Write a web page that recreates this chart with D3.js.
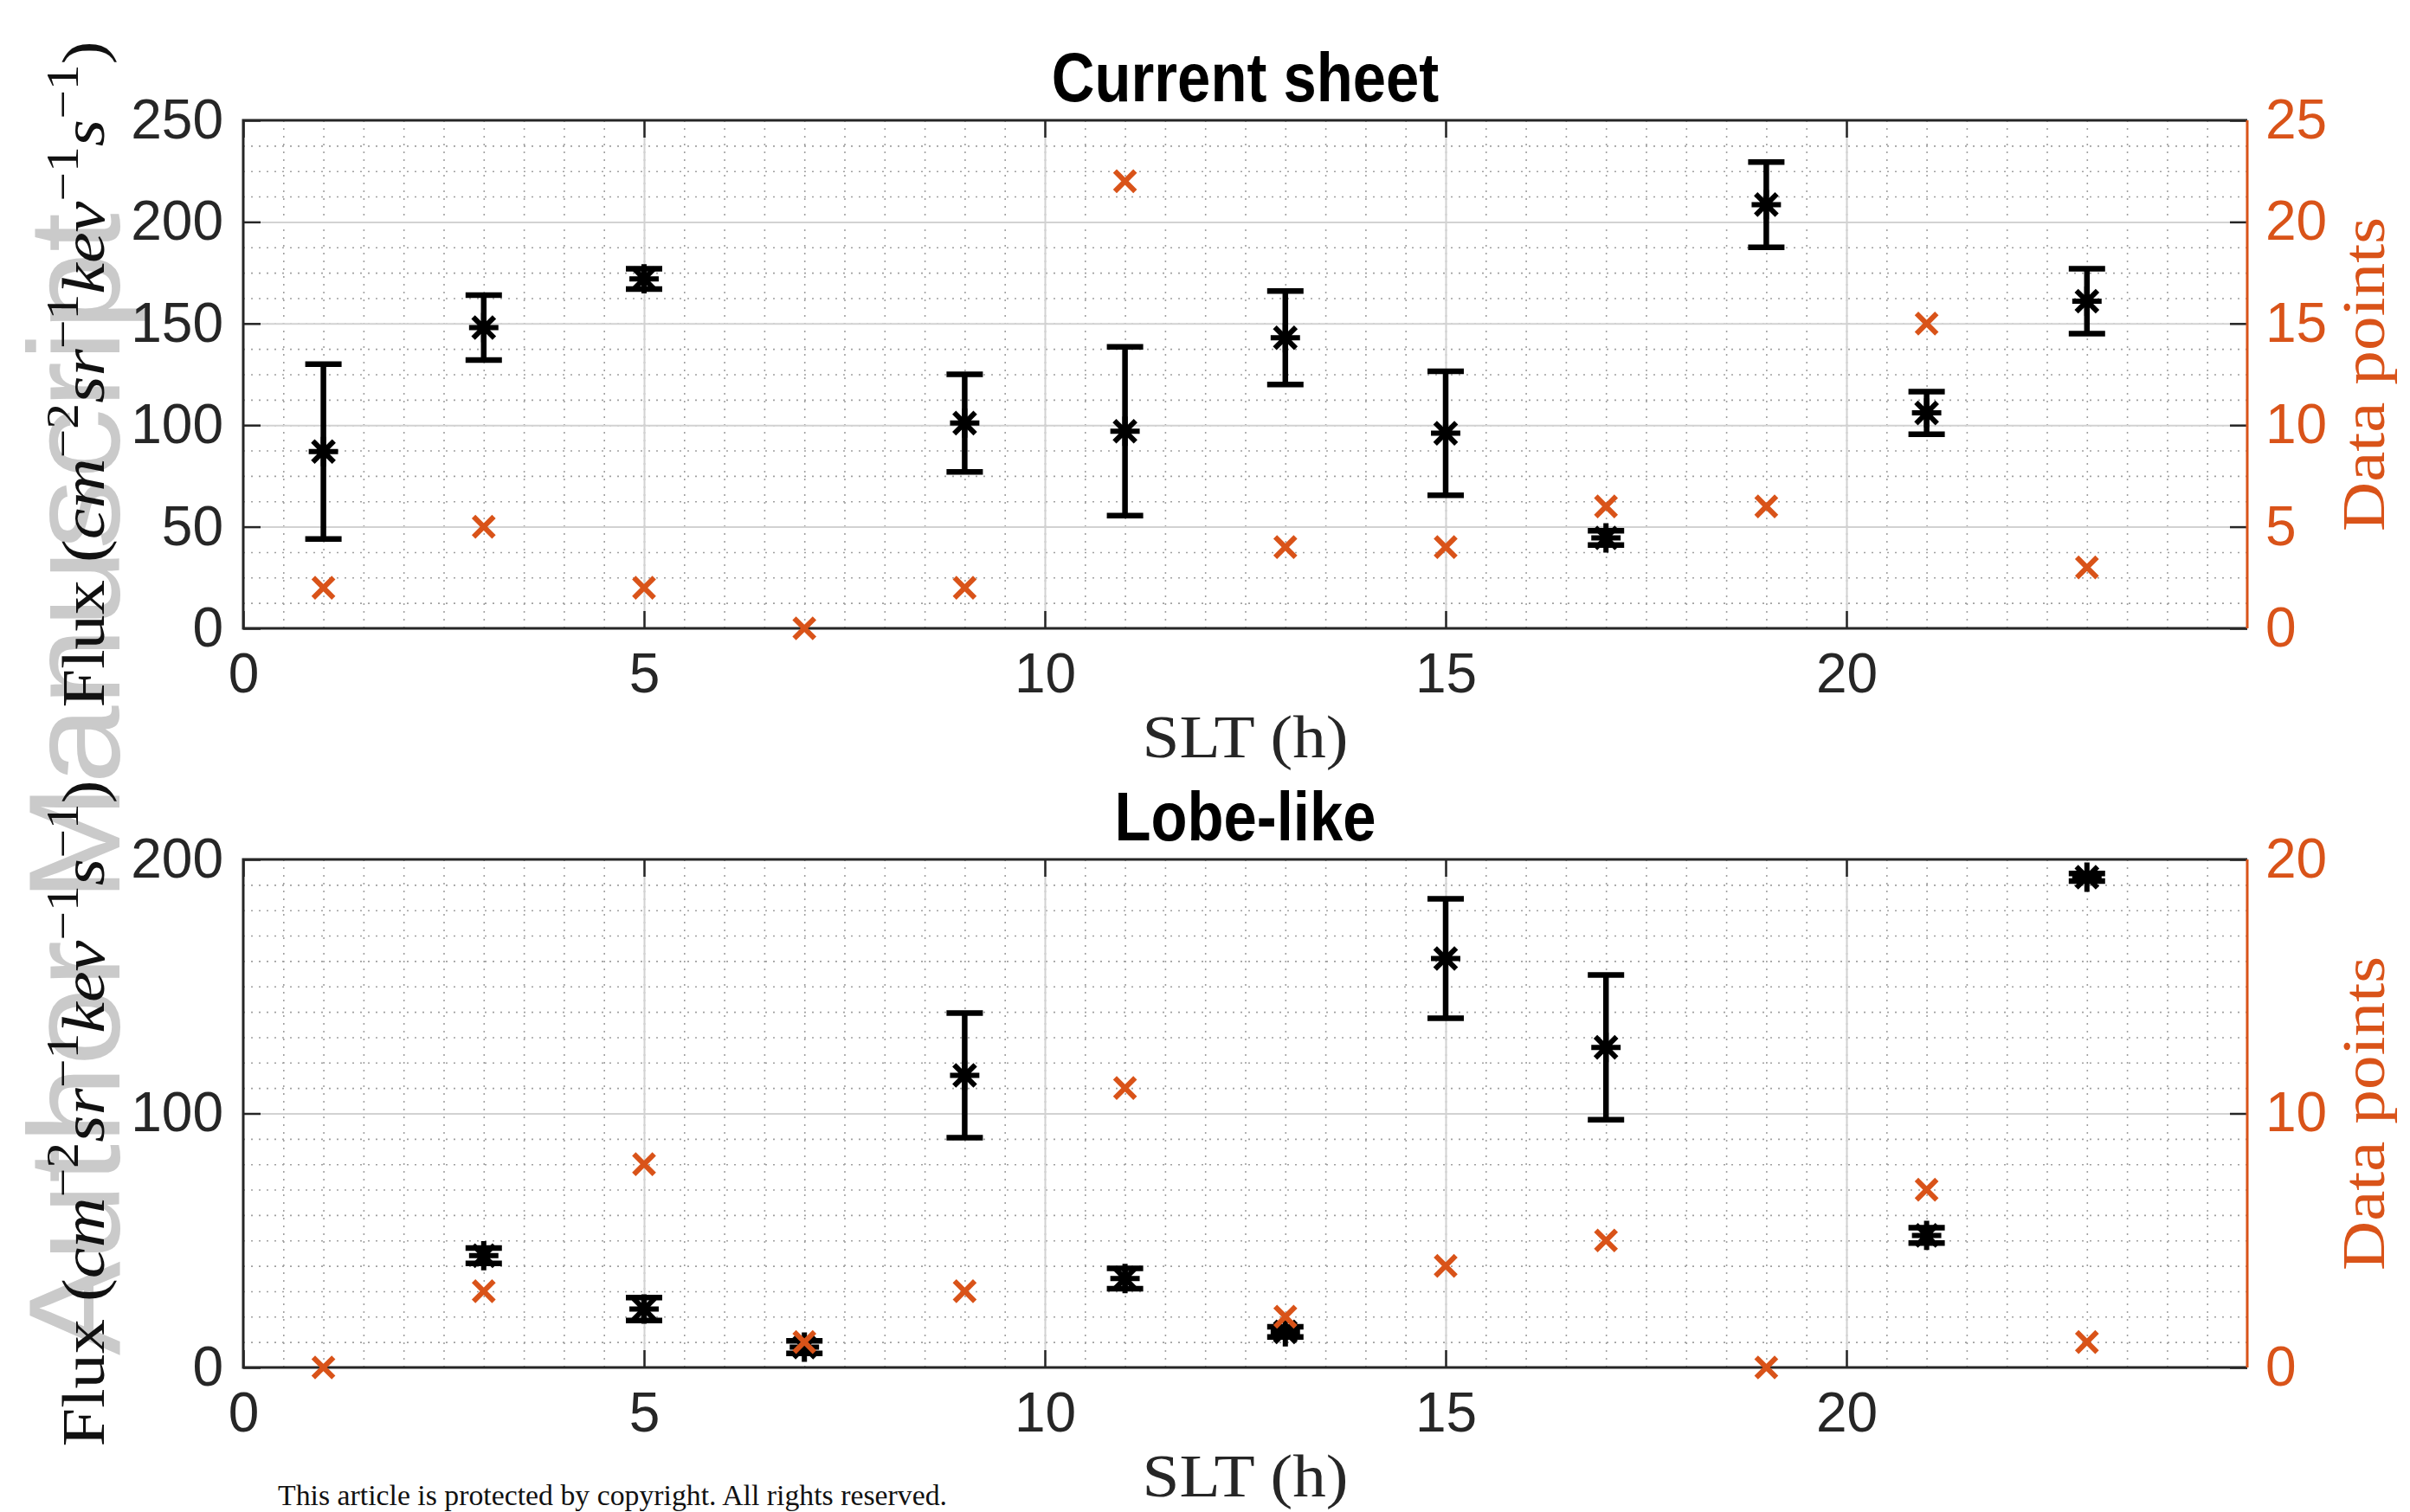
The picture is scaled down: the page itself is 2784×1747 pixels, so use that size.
<!DOCTYPE html>
<html>
<head>
<meta charset="utf-8">
<script src="https://cdn.jsdelivr.net/npm/d3@7"></script>
<style>
    body { margin: 0; background: #fff; }
    svg { display: block; }
</style>
</head>
<body>
<svg id="chart" width="2784" height="1747"></svg>
<script>

// SLT bins (h)
var sltHours = [1, 3, 5, 7, 9, 11, 13, 15, 17, 19, 21, 23];

// current sheet panel
var sheetFlux = [87, 148, 172, null, 101, 97, 143, 96, 44.5, 208.5, 106, 161];
var sheetErr = [43, 16, 5, null, 24, 41.5, 23, 30.5, 3.5, 21, 10.5, 16];
var sheetPoints = [2, 5, 2, 0, 2, 22, 4, 4, 6, 6, 15, 3];

// lobe-like panel
var lobeFlux = [null, 44, 23, 8, 115, 35, 14, 161, 126, null, 52, 193];
var lobeErr = [null, 3, 4.5, 2.5, 24.5, 4, 2, 23.5, 28.5, null, 3, 1.5];
var lobePoints = [0, 3, 8, 1, 3, 11, 2, 4, 5, 0, 7, 1];

// ticks
var xTicks = [0, 5, 10, 15, 20];
var sheetFluxTicks = [0, 50, 100, 150, 200, 250];
var sheetPointTicks = [0, 5, 10, 15, 20, 25];
var lobeFluxTicks = [0, 100, 200];
var lobePointTicks = [0, 10, 20];

var orange = '#D95319',
    ink = '#262626',
    svg = d3.select('#chart'),
    left = 281,
    width = 2315,
    height = 587;

// matlab '*' marker (plus and cross)
var starType = {
    draw: function (ctx, size) {
        var r = Math.sqrt(size) / 2,
            a = r * 0.72;
        ctx.moveTo(0, -r); ctx.lineTo(0, r);
        ctx.moveTo(-r, 0); ctx.lineTo(r, 0);
        ctx.moveTo(-a, -a); ctx.lineTo(a, a);
        ctx.moveTo(-a, a); ctx.lineTo(a, -a);
    }
};

// watermark
svg.append('text')
    .attr('transform', 'translate(138,1566) rotate(-90)')
    .attr('font-family', 'Liberation Sans, Arial, sans-serif')
    .attr('font-size', 150)
    .attr('textLength', 1320)
    .attr('lengthAdjust', 'spacingAndGlyphs')
    .attr('fill', '#cacaca')
    .text('Author Manuscript');

svg.append('text')
    .attr('x', 321)
    .attr('y', 1739)
    .attr('font-family', 'Liberation Serif, serif')
    .attr('font-size', 34)
    .attr('textLength', 773)
    .attr('lengthAdjust', 'spacingAndGlyphs')
    .attr('fill', '#111')
    .text('This article is protected by copyright. All rights reserved.');

var styleAxis = function (sel, color, size) {
    sel.select('.domain').remove();
    sel.selectAll('line').attr('stroke', ink).attr('stroke-width', 2.5);
    sel.selectAll('text')
        .attr('font-family', 'Liberation Sans, Arial, sans-serif')
        .attr('font-size', size)
        .attr('fill', color);
};

/**
 * Draw one panel
 * @param options
 *      top, title, flux, err, points, fluxMax, pointsMax,
 *      fluxTicks, pointTicks, fluxMinor
 */
var drawPanel = function (options) {

    var g = svg.append('g')
            .attr('transform', 'translate(' + left + ',' + options.top + ')'),
        x = d3.scaleLinear().domain([0, 25]).range([0, width]),
        yFlux = d3.scaleLinear().domain([0, options.fluxMax]).range([height, 0]),
        yPts = d3.scaleLinear().domain([0, options.pointsMax]).range([height, 0]);

    // minor grid
    g.append('g')
        .call(d3.axisBottom(x).tickValues(d3.range(0.5, 25, 0.5)).tickSize(height).tickFormat(''))
        .call(function (s) {
            s.select('.domain').remove();
            s.selectAll('line').attr('stroke', '#a0a0a0').attr('stroke-width', 1.6)
                .attr('stroke-dasharray', '2,7');
        });
    g.append('g')
        .call(d3.axisRight(yFlux).tickValues(d3.range(options.fluxMinor, options.fluxMax, options.fluxMinor))
            .tickSize(width).tickFormat(''))
        .call(function (s) {
            s.select('.domain').remove();
            s.selectAll('line').attr('stroke', '#a0a0a0').attr('stroke-width', 1.6)
                .attr('stroke-dasharray', '2,7');
        });

    // major grid
    g.append('g')
        .call(d3.axisBottom(x).tickValues(xTicks.slice(1)).tickSize(height).tickFormat(''))
        .call(function (s) {
            s.select('.domain').remove();
            s.selectAll('line').attr('stroke', '#d2d2d2').attr('stroke-width', 2);
        });
    g.append('g')
        .call(d3.axisRight(yFlux).tickValues(options.fluxTicks.slice(1, -1)).tickSize(width).tickFormat(''))
        .call(function (s) {
            s.select('.domain').remove();
            s.selectAll('line').attr('stroke', '#d2d2d2').attr('stroke-width', 2);
        });

    // axes with inward ticks
    g.append('g')
        .call(d3.axisLeft(yFlux).tickValues(options.fluxTicks).tickSize(-20).tickPadding(23))
        .call(styleAxis, ink, 64);
    g.append('g')
        .attr('transform', 'translate(0,' + height + ')')
        .call(d3.axisBottom(x).tickValues(xTicks).tickSize(-20).tickPadding(29))
        .call(styleAxis, ink, 64);
    g.append('g')
        .call(d3.axisTop(x).tickValues(xTicks).tickSize(-20).tickFormat(''))
        .call(styleAxis, ink, 64);
    g.append('g')
        .attr('transform', 'translate(' + width + ',0)')
        .call(d3.axisRight(yPts).tickValues(options.pointTicks).tickSize(-20).tickPadding(21))
        .call(styleAxis, orange, 64);

    // box
    g.append('path')
        .attr('d', 'M' + width + ',0H0V' + height + 'H' + width)
        .attr('fill', 'none')
        .attr('stroke', ink)
        .attr('stroke-width', 3);
    g.append('line')
        .attr('x1', width).attr('x2', width)
        .attr('y1', 0).attr('y2', height)
        .attr('stroke', orange)
        .attr('stroke-width', 3);

    // flux with error bars
    var rows = sltHours.map(function (h, i) {
        return { h: h, f: options.flux[i], e: options.err[i], n: options.points[i] };
    });
    var fluxRows = rows.filter(function (d) { return d.f !== null; });

    var bars = g.append('g')
        .attr('stroke', '#000')
        .attr('stroke-width', 6.5)
        .attr('fill', 'none');

    bars.selectAll('.stem')
        .data(fluxRows)
        .enter().append('line')
        .attr('x1', function (d) { return x(d.h); })
        .attr('x2', function (d) { return x(d.h); })
        .attr('y1', function (d) { return yFlux(d.f - d.e); })
        .attr('y2', function (d) { return yFlux(d.f + d.e); });

    bars.selectAll('.capLow')
        .data(fluxRows)
        .enter().append('line')
        .attr('x1', function (d) { return x(d.h) - 21; })
        .attr('x2', function (d) { return x(d.h) + 21; })
        .attr('y1', function (d) { return yFlux(d.f - d.e); })
        .attr('y2', function (d) { return yFlux(d.f - d.e); });

    bars.selectAll('.capHigh')
        .data(fluxRows)
        .enter().append('line')
        .attr('x1', function (d) { return x(d.h) - 21; })
        .attr('x2', function (d) { return x(d.h) + 21; })
        .attr('y1', function (d) { return yFlux(d.f + d.e); })
        .attr('y2', function (d) { return yFlux(d.f + d.e); });

    bars.selectAll('.star')
        .data(fluxRows)
        .enter().append('path')
        .attr('transform', function (d) {
            return 'translate(' + x(d.h) + ',' + yFlux(d.f) + ')';
        })
        .attr('stroke-width', 6)
        .attr('d', d3.symbol().type(starType).size(1150));

    // number of data points
    g.append('g')
        .selectAll('path')
        .data(rows)
        .enter().append('path')
        .attr('transform', function (d) {
            return 'translate(' + x(d.h) + ',' + yPts(d.n) + ')';
        })
        .attr('d', d3.symbol().type(d3.symbolX).size(360))
        .attr('fill', 'none')
        .attr('stroke', orange)
        .attr('stroke-width', 6);

    // titles and labels
    g.append('text')
        .attr('transform', 'translate(' + width / 2 + ',-22) scale(0.86,1)')
        .attr('text-anchor', 'middle')
        .attr('font-family', 'Liberation Sans, Arial, sans-serif')
        .attr('font-weight', 'bold')
        .attr('font-size', 80)
        .attr('fill', '#000')
        .text(options.title);

    g.append('text')
        .attr('x', width / 2)
        .attr('y', height + 149)
        .attr('text-anchor', 'middle')
        .attr('font-family', 'Liberation Serif, serif')
        .attr('font-size', 70)
        .attr('textLength', 238)
        .attr('lengthAdjust', 'spacingAndGlyphs')
        .attr('fill', ink)
        .text('SLT (h)');

    g.append('text')
        .attr('transform', 'translate(' + (width + 158) + ',' + height / 2 + ') rotate(-90)')
        .attr('text-anchor', 'middle')
        .attr('font-family', 'Liberation Serif, serif')
        .attr('font-size', 70)
        .attr('textLength', 363)
        .attr('lengthAdjust', 'spacingAndGlyphs')
        .attr('fill', orange)
        .text('Data points');

    var fluxLabel = g.append('text')
        .attr('transform', 'translate(-161,' + height / 2 + ') rotate(-90)')
        .attr('text-anchor', 'middle')
        .attr('font-family', 'Liberation Serif, serif')
        .attr('font-size', 70)
        .attr('textLength', 770)
        .attr('lengthAdjust', 'spacingAndGlyphs')
        .attr('fill', '#111');

    var parts = [
        ['Flux (', 'normal', 0], ['cm', 'italic', 0], ['\u22122', 'normal', 1],
        ['sr', 'italic', 0], ['\u22121', 'normal', 1],
        ['kev', 'italic', 0], ['\u22121', 'normal', 1],
        ['s', 'italic', 0], ['\u22121', 'normal', 1], [')', 'normal', 0]
    ];
    var raised = false;
    parts.forEach(function (p) {
        var t = fluxLabel.append('tspan')
            .attr('font-style', p[1])
            .text(p[0]);
        if (p[2] && !raised) { t.attr('dy', -30).attr('font-size', 52); raised = true; }
        else if (p[2]) { t.attr('font-size', 52); }
        else if (raised) { t.attr('dy', 30); raised = false; }
    });

};

drawPanel({
    top: 139,
    title: 'Current sheet',
    flux: sheetFlux,
    err: sheetErr,
    points: sheetPoints,
    fluxMax: 250,
    pointsMax: 25,
    fluxTicks: sheetFluxTicks,
    pointTicks: sheetPointTicks,
    fluxMinor: 12.5
});

drawPanel({
    top: 993,
    title: 'Lobe-like',
    flux: lobeFlux,
    err: lobeErr,
    points: lobePoints,
    fluxMax: 200,
    pointsMax: 20,
    fluxTicks: lobeFluxTicks,
    pointTicks: lobePointTicks,
    fluxMinor: 10
});

</script>
</body>
</html>
